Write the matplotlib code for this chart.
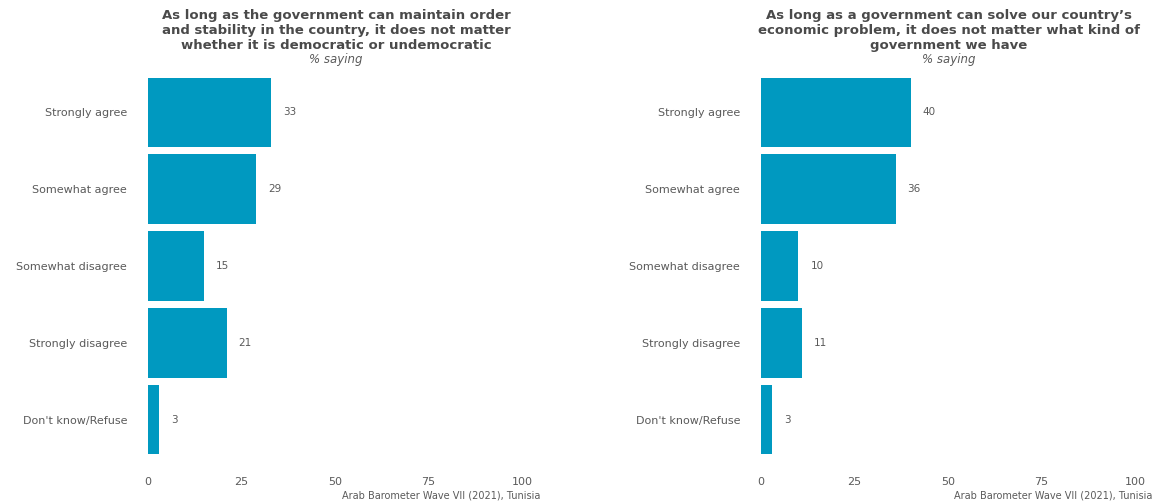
import matplotlib
matplotlib.use('Agg')
import matplotlib.pyplot as plt

categories = ['Strongly agree', 'Somewhat agree', 'Somewhat disagree',
              'Strongly disagree', "Don't know/Refuse"]
order_values = [33, 29, 15, 21, 3]
economy_values = [40, 36, 10, 11, 3]
xticks = [0, 25, 50, 75, 100]

titles = ['As long as the government can maintain order\n'
          'and stability in the country, it does not matter\n'
          'whether it is democratic or undemocratic',
          'As long as a government can solve our country\u2019s\n'
          'economic problem, it does not matter what kind of\n'
          'government we have']
caption = 'Arab Barometer Wave VII (2021), Tunisia'

BAR = '#0099c0'
TXT = '#5a5a5a'
TITLE = '#4a4a4a'

plt.rcParams['font.family'] = ['DejaVu Sans']

fig = plt.figure(figsize=(11.58, 5.04), dpi=100)
W, H = 1158, 504
panels = [(148, order_values, titles[0], 540), (761, economy_values, titles[1], 1152)]

for left, vals, title, cap_x in panels:
    ax = fig.add_axes([left / W, (H - 466) / H, 374 / W, 400 / H])
    y = list(range(len(categories)))
    ax.barh(y, vals, height=0.9, color=BAR)
    for yi, v in zip(y, vals):
        ax.text(v + 3.2, yi, f'{v}', va='center', ha='left', fontsize=7.5, color=TXT)
    ax.set_xlim(0, 100)
    ax.set_ylim(len(categories) - 0.4, -0.6)
    ax.set_yticks(y)
    ax.set_yticklabels(categories)
    ax.set_xticks(xticks)
    ax.tick_params(length=0, labelsize=8, labelcolor=TXT)
    ax.tick_params(axis='y', pad=15)
    ax.tick_params(axis='x', pad=8)
    for s in ax.spines.values():
        s.set_visible(False)
    cx = (left + 188) / W
    fig.text(cx, 1 - 9 / H, title, ha='center', va='top', fontsize=9.5,
             fontweight='bold', color=TITLE, linespacing=1.2)
    fig.text(cx, 1 - 59 / H, '% saying', ha='center', va='center', fontsize=8.5,
             style='italic', color=TXT)
    fig.text(cap_x / W, 1 - 495 / H, caption, ha='right', va='center',
             fontsize=7, color=TXT)

fig.savefig('out.png', dpi=100)
